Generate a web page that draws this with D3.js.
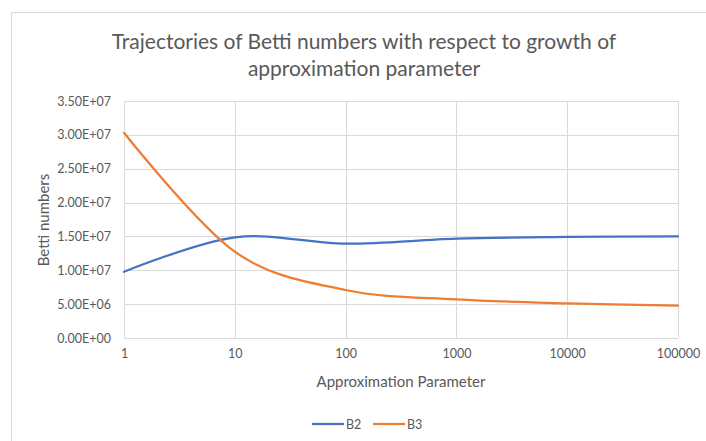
<!DOCTYPE html>
<html>
<head>
<meta charset="utf-8">
<script src="https://cdn.jsdelivr.net/npm/d3@7"></script>
<style>
  body { margin: 0; background: #fff; }
  text { font-family: Lato, "Open Sans", sans-serif; fill: #595959; }
</style>
</head>
<body>
<svg id="chart" width="706" height="441"></svg>
<script>
// data
const params = [1, 10, 100, 1000, 10000, 100000];
const b2 = [9.78e6, 1.487e7, 1.393e7, 1.467e7, 1.492e7, 1.502e7];
const b3 = [3.03e7, 1.275e7, 7.09e6, 5.71e6, 5.12e6, 4.78e6];
const yTicks = [0, 5e6, 1e7, 1.5e7, 2e7, 2.5e7, 3e7, 3.5e7];
const seriesNames = ["B2", "B3"];
const colors = ["#4472C4", "#ED7D31"];

const svg = d3.select("#chart");
const margin = { left: 124, right: 28, top: 101, bottom: 103 };
const width = 706, height = 441;

// chart frame
svg.append("rect")
  .attr("x", 11.5).attr("y", 12.5)
  .attr("width", 720).attr("height", 440)
  .attr("fill", "none").attr("stroke", "#D9D9D9");

const x = d3.scaleLog()
  .domain([1, 100000])
  .range([margin.left, width - margin.right]);
const y = d3.scaleLinear()
  .domain([0, 3.5e7])
  .range([height - margin.bottom, margin.top]);

// gridlines
svg.append("g")
  .selectAll("line.h")
  .data(yTicks)
  .enter().append("line")
  .attr("x1", margin.left).attr("x2", width - margin.right)
  .attr("y1", d => Math.round(y(d)) + 0.5).attr("y2", d => Math.round(y(d)) + 0.5)
  .attr("stroke", "#D9D9D9").attr("stroke-width", 1);

svg.append("g")
  .selectAll("line.v")
  .data(params)
  .enter().append("line")
  .attr("x1", d => Math.round(x(d)) + 0.5).attr("x2", d => Math.round(x(d)) + 0.5)
  .attr("y1", margin.top).attr("y2", height - margin.bottom)
  .attr("stroke", "#D9D9D9").attr("stroke-width", 1);

// axes
const yAxis = svg.append("g")
  .attr("transform", "translate(" + (margin.left - 13) + ",0)")
  .call(d3.axisLeft(y).tickValues(yTicks).tickSize(0)
    .tickFormat(d => d.toExponential(2).toUpperCase().replace(/E([+-])(\d)$/, "E$10$2")));
yAxis.select(".domain").remove();
yAxis.selectAll("text").style("font-size", "12.5px").attr("fill", "#595959").attr("x", 0);

const xAxis = svg.append("g")
  .attr("transform", "translate(0," + (height - margin.bottom + 8) + ")")
  .call(d3.axisBottom(x).tickValues(params).tickSize(0).tickFormat(d3.format("d")));
xAxis.select(".domain").remove();
xAxis.selectAll("text").style("font-size", "12.5px").attr("fill", "#595959");

// lines
const line = d3.line()
  .x((d, i) => x(params[i]))
  .y(d => y(d))
  .curve(d3.curveCardinal.tension(0));

[b2, b3].forEach((s, i) => {
  svg.append("path")
    .datum(s)
    .attr("d", line)
    .attr("fill", "none")
    .attr("stroke", colors[i])
    .attr("stroke-width", 2.25)
    .attr("stroke-linecap", "round");
});

// titles
const title = svg.append("text")
  .attr("x", 364).attr("y", 49)
  .attr("text-anchor", "middle")
  .style("font-size", "21px");
title.append("tspan").attr("x", 364).text("Trajectories of Betti numbers with respect to growth of");
title.append("tspan").attr("x", 364).attr("dy", 27).text("approximation parameter");

svg.append("text")
  .attr("x", (margin.left + width - margin.right) / 2).attr("y", 387)
  .attr("text-anchor", "middle")
  .style("font-size", "15px")
  .text("Approximation Parameter");

svg.append("text")
  .attr("transform", "translate(49,220) rotate(-90)")
  .attr("text-anchor", "middle")
  .style("font-size", "15px")
  .text("Betti numbers");

// legend
const legend = svg.append("g").attr("transform", "translate(312,424)");
seriesNames.forEach((name, i) => {
  const g = legend.append("g").attr("transform", "translate(" + (i * 61) + ",0)");
  g.append("line").attr("x1", 0).attr("x2", 32).attr("y1", 0).attr("y2", 0)
    .attr("stroke", colors[i]).attr("stroke-width", 2.25);
  g.append("text").attr("x", 34).attr("y", 4.5).style("font-size", "12.5px").text(name);
});
</script>
</body>
</html>
